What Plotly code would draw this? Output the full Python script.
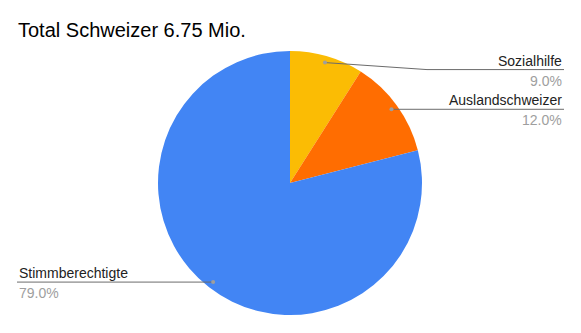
import math
import plotly.graph_objects as go

labels = ["Sozialhilfe", "Auslandschweizer", "Stimmberechtigte"]
values = [9.0, 12.0, 79.0]
colors = ["#FBBC04", "#FF6D01", "#4285F4"]
title_text = "Total Schweizer 6.75 Mio."

W, H = 581, 333
CX, CY, R = 290, 183, 132

def px(x):
    return x / W

def py(y):
    return (H - y) / H

fig = go.Figure(go.Pie(
    labels=labels, values=values, sort=False, direction="clockwise", rotation=0,
    marker=dict(colors=colors, line=dict(width=0)),
    textinfo="none", hoverinfo="label+percent", showlegend=False,
    domain=dict(x=[px(CX - R), px(CX + R)], y=[py(CY + R), py(CY - R)]),
))

total = sum(values)
# per-label vertical shift of the label line (layout only)
line_shift = [7, 0, 0]
shapes, annotations = [], []
cum = 0.0
for lab, v, shift in zip(labels, values, line_shift):
    mid = (cum + v / 2) / total * 2 * math.pi
    cum += v
    dx, dy = CX + 0.95 * R * math.sin(mid), CY - 0.95 * R * math.cos(mid)
    ly = dy + shift
    right = math.sin(mid) >= 0
    end_x = 564 if right else 17
    knee_x = dx + (102 if shift else 0) * (1 if right else -1)
    if shift:
        shapes.append(dict(type="line", xref="paper", yref="paper", x0=px(dx), y0=py(dy),
                           x1=px(knee_x), y1=py(ly), line=dict(color="#6b6b6b", width=1)))
    shapes.append(dict(type="line", xref="paper", yref="paper", x0=px(knee_x), y0=py(ly),
                       x1=px(end_x), y1=py(ly), line=dict(color="#6b6b6b", width=1)))
    shapes.append(dict(type="circle", xref="paper", yref="paper",
                       x0=px(dx - 2), x1=px(dx + 2), y0=py(dy + 2), y1=py(dy - 2),
                       fillcolor="#9e9e9e", line=dict(width=0)))
    anchor = "right" if right else "left"
    annotations.append(dict(text=lab, xref="paper", yref="paper", x=px(end_x), y=py(ly + 1),
                            xanchor=anchor, yanchor="bottom", showarrow=False,
                            font=dict(family="Arial, Liberation Sans", size=14, color="#222222")))
    annotations.append(dict(text=f"{v / total * 100:.1f}%", xref="paper", yref="paper",
                            x=px(end_x), y=py(ly + 1), xanchor=anchor, yanchor="top",
                            showarrow=False,
                            font=dict(family="Arial, Liberation Sans", size=14, color="#9e9e9e")))

annotations.append(dict(text=title_text, xref="paper", yref="paper", x=px(16), y=py(30),
                        xanchor="left", yanchor="middle", showarrow=False,
                        font=dict(family="Arial, Liberation Sans", size=20, color="#000000")))

fig.update_layout(width=W, height=H, margin=dict(l=0, r=0, t=0, b=0),
                  paper_bgcolor="white", plot_bgcolor="white",
                  shapes=shapes, annotations=annotations)
fig.write_html("out.html")
